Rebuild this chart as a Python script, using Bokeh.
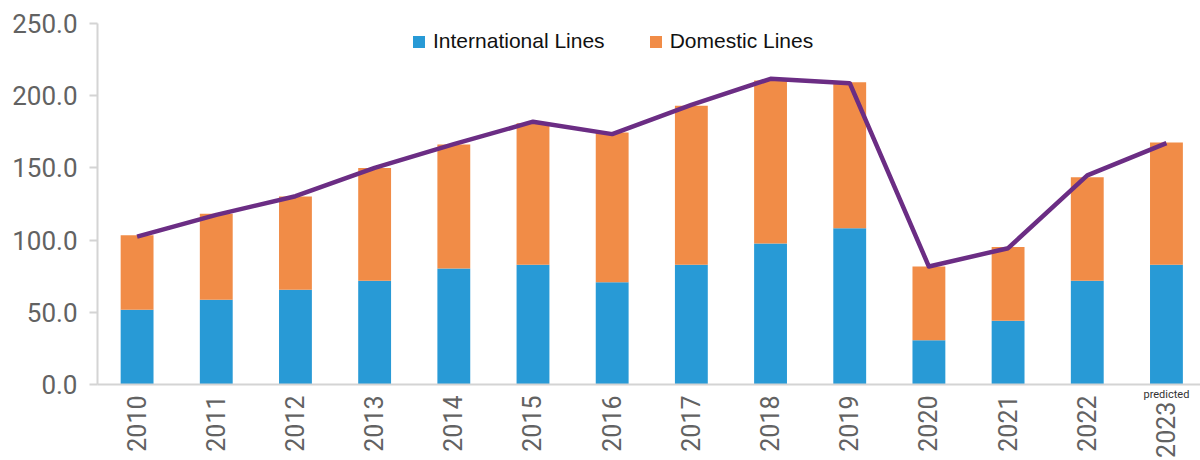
import math
from bokeh.plotting import figure
from bokeh.models import (Range1d, FixedTicker, NumeralTickFormatter, Legend, LegendItem,
                          ColumnDataSource, LinearAxis)
from bokeh.embed import file_html
from bokeh.resources import INLINE

years = ["2010", "2011", "2012", "2013", "2014", "2015", "2016", "2017",
         "2018", "2019", "2020", "2021", "2022", "2023"]
international = [51.7, 58.7, 65.7, 71.9, 80.3, 82.9, 70.8, 82.9, 97.7, 108.2, 30.6, 44.1, 71.9, 82.9]
domestic = [51.6, 59.5, 64.5, 78.0, 85.9, 98.1, 103.7, 110.2, 112.8, 101.1, 51.1, 51.1, 71.6, 84.7]
total_line = [102.4, 117.5, 130.4, 150.0, 166.4, 182.0, 173.4, 193.6, 211.7, 208.7, 81.7, 94.4, 144.8, 167.1]
y_ticks = [0, 50, 100, 150, 200, 250]
series_names = ["International Lines", "Domestic Lines"]
note_text = "predicted"

BLUE = "#289AD6"
ORANGE = "#F18C47"
PURPLE = "#6B2D84"
AXIS = "#D4D4D4"
TXT = "#626262"

xpos = [i + 0.5 for i in range(len(years))]
src = ColumnDataSource(dict(x=xpos, intl=international, dom=domestic, tot=total_line))

p = figure(width=1200, height=460, output_backend="svg", toolbar_location=None,
           x_range=Range1d(0, 13.93), y_range=Range1d(0, 250),
           min_border_left=97, min_border_top=23, min_border_bottom=76, min_border_right=0)
p.outline_line_color = None
p.grid.grid_line_color = None
p.background_fill_color = "white"

r = p.vbar_stack(["intl", "dom"], x="x", width=0.415, color=[BLUE, ORANGE], line_color=None, source=src)
p.line("x", "tot", source=src, line_color=PURPLE, line_width=4.5, line_join="round")

# x axes: a thin note axis directly under the frame, then the year labels
main_x = p.xaxis[0]
labels = list(years)
labels[-1] = labels[-1] + " "
main_x.ticker = FixedTicker(ticks=xpos)
main_x.major_label_overrides = {x: y for x, y in zip(xpos, labels)}
main_x.major_label_orientation = math.pi / 2
main_x.major_tick_out = 0
main_x.major_tick_in = 0
main_x.minor_tick_line_color = None
main_x.major_label_standoff = -8
main_x.axis_line_color = None
main_x.major_label_text_font = "Roboto"
main_x.major_label_text_font_size = "25px"
main_x.major_label_text_color = TXT

note_axis = LinearAxis(ticker=FixedTicker(ticks=[xpos[-1]]),
                       major_label_overrides={xpos[-1]: note_text})
note_axis.major_tick_out = 0
note_axis.major_tick_in = 0
note_axis.minor_tick_line_color = None
note_axis.major_label_standoff = 3
note_axis.axis_line_color = AXIS
note_axis.axis_line_width = 2
note_axis.major_label_text_font = "Roboto"
note_axis.major_label_text_font_size = "11px"
note_axis.major_label_text_color = "#333333"
p.below = [note_axis, main_x]

p.yaxis.ticker = FixedTicker(ticks=y_ticks)
p.yaxis.formatter = NumeralTickFormatter(format="0.0")
p.yaxis.major_tick_out = 8
p.yaxis.major_tick_in = 0
p.yaxis.major_tick_line_color = AXIS
p.yaxis.major_tick_line_width = 2
p.yaxis.minor_tick_line_color = None
p.yaxis.major_label_standoff = 12
p.yaxis.axis_line_color = AXIS
p.yaxis.axis_line_width = 2
p.yaxis.major_label_text_font = "Roboto"
p.yaxis.major_label_text_font_size = "26px"
p.yaxis.major_label_text_color = TXT

legend = Legend(items=[LegendItem(label=series_names[0], renderers=[r[0]]),
                       LegendItem(label=series_names[1], renderers=[r[1]])],
                orientation="horizontal", location=(314, 331),
                padding=0, margin=0, spacing=43, label_standoff=7,
                glyph_width=15, glyph_height=15, label_height=15,
                border_line_alpha=0, background_fill_alpha=0,
                label_text_font="Liberation Sans", label_text_font_size="21px",
                label_text_color="#111111")
p.add_layout(legend, "center")

open("out.html", "w").write(file_html(p, INLINE))
